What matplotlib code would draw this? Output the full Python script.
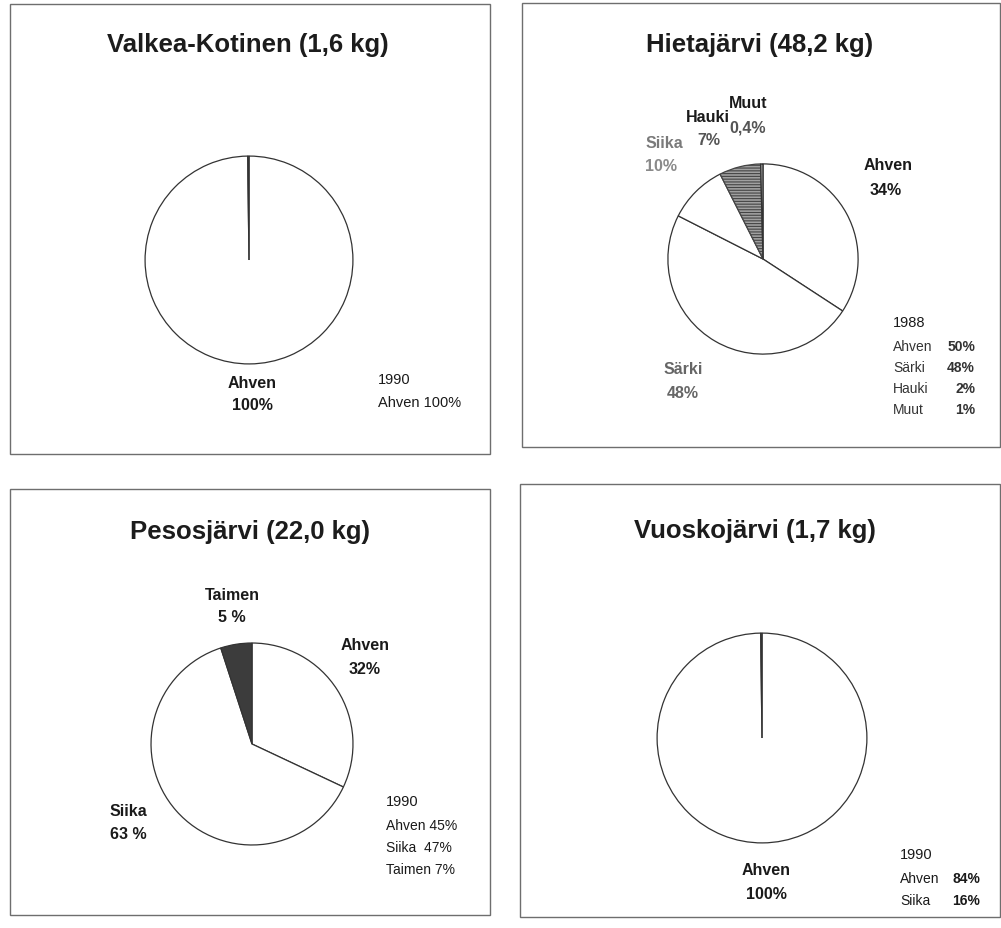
import matplotlib
matplotlib.use("Agg")
import matplotlib.pyplot as plt
from matplotlib.patches import Rectangle

plt.rcParams['font.family'] = ['Liberation Sans', 'DejaVu Sans']
plt.rcParams['hatch.linewidth'] = 0.8

W, H = 1001, 929

# catch shares (%), clockwise from 12 o'clock
titles = ["Valkea-Kotinen (1,6 kg)", "Hietajärvi (48,2 kg)",
          "Pesosjärvi (22,0 kg)", "Vuoskojärvi (1,7 kg)"]

vk_species = ["Ahven", "Muut"]
vk_share = [99.8, 0.2]

hj_species = ["Ahven", "Särki", "Siika", "Hauki", "Muut"]
hj_share = [34, 48, 10, 7, 0.4]

ps_species = ["Ahven", "Siika", "Taimen"]
ps_share = [32, 63, 5]

vs_species = ["Ahven", "Muut"]
vs_share = [99.8, 0.2]

# earlier survey figures shown in the corner
vk_prev_year = "1990"
vk_prev = ["Ahven 100%"]
hj_prev_year = "1988"
hj_prev_names = ["Ahven", "Särki", "Hauki", "Muut"]
hj_prev_pct = ["50%", "48%", "2%", "1%"]
ps_prev_year = "1990"
ps_prev = ["Ahven 45%", "Siika  47%", "Taimen 7%"]
vs_prev_year = "1990"
vs_prev_names = ["Ahven", "Siika"]
vs_prev_pct = ["84%", "16%"]

fig = plt.figure(figsize=(W / 100, H / 100), dpi=100)
bg = fig.add_axes([0, 0, 1, 1])
bg.set_xlim(0, W)
bg.set_ylim(H, 0)
bg.axis("off")

# panel frames
frames = [(10, 5, 490, 455), (522, 4, 1000, 448),
          (10, 490, 490, 916), (520, 485, 1000, 918)]
for x0, y0, x1, y1 in frames:
    bg.add_patch(Rectangle((x0, y0), x1 - x0, y1 - y0, fill=False,
                           edgecolor="#6e6e6e", linewidth=1.0))


def draw_pie(cx, cy, r, values, colors):
    """ pie in its own square axes, pixel centre and radius """
    ax = fig.add_axes([(cx - r) / W, 1 - (cy + r) / H, 2 * r / W, 2 * r / H])
    wedges, _ = ax.pie(values, colors=colors, startangle=90, counterclock=False,
                       wedgeprops=dict(edgecolor="#333333", linewidth=0.9))
    ax.set_xlim(-1.02, 1.02)
    ax.set_ylim(-1.02, 1.02)
    ax.axis("off")
    return wedges


def label(x, y, s, color="#1a1a1a", size=11.5, weight="bold", ha="center"):
    bg.text(x, y, s, ha=ha, va="center", fontsize=size, fontweight=weight,
            color=color)


# titles
title_pos = [(248, 45), (760, 45), (250, 532), (755, 531)]
for (tx, ty), t in zip(title_pos, titles):
    label(tx, ty, t, color="#1c1c1c", size=18.5)

# Valkea-Kotinen
draw_pie(249, 261, 106, vk_share, ["white", "white"])
label(252, 384, vk_species[0])
label(252, 405, "100%")
label(378, 380, vk_prev_year, size=10.5, weight="normal", ha="left")
label(378, 403, vk_prev[0], size=10.5, weight="normal", ha="left")

# Hietajärvi
w = draw_pie(763, 260, 97, hj_share, ["white", "white", "white", "#a0a0a0", "#a0a0a0"])
w[3].set_hatch("------")
w[3].set_edgecolor("#444444")
label(888, 165, hj_species[0])
label(886, 190, "34%")
label(683, 369, hj_species[1], color="#666666")
label(683, 393, "48%", color="#666666")
label(664, 143, hj_species[2], color="#7a7a7a")
label(661, 166, "10%", color="#8a8a8a")
label(708, 117, hj_species[3])
label(709, 140, "7%", color="#555555")
label(748, 103, hj_species[4])
label(748, 128, "0,4%", color="#555555")
label(893, 323, hj_prev_year, size=10.5, weight="normal", ha="left")
for i, (n, p) in enumerate(zip(hj_prev_names, hj_prev_pct)):
    yy = 347 + i * 21
    label(893, yy, n, size=10, weight="normal", ha="left", color="#333333")
    label(975, yy, p, size=10, ha="right", color="#333333")

# Pesosjärvi
draw_pie(252, 745, 103, ps_share, ["white", "white", "#3c3c3c"])
label(232, 595, ps_species[2])
label(232, 618, "5 %")
label(365, 646, ps_species[0])
label(365, 669, "32%")
label(110, 812, ps_species[1], ha="left")
label(110, 835, "63 %", ha="left")
label(386, 802, ps_prev_year, size=10.5, weight="normal", ha="left")
for i, s in enumerate(ps_prev):
    label(386, 826 + i * 22, s, size=10, weight="normal", ha="left")

# Vuoskojärvi
draw_pie(762, 739, 107, vs_share, ["white", "white"])
label(766, 871, vs_species[0])
label(766, 895, "100%")
label(900, 855, vs_prev_year, size=10.5, weight="normal", ha="left")
for i, (n, p) in enumerate(zip(vs_prev_names, vs_prev_pct)):
    yy = 879 + i * 22
    label(900, yy, n, size=10, weight="normal", ha="left")
    label(980, yy, p, size=10, ha="right")

fig.savefig("out.png", dpi=100)
